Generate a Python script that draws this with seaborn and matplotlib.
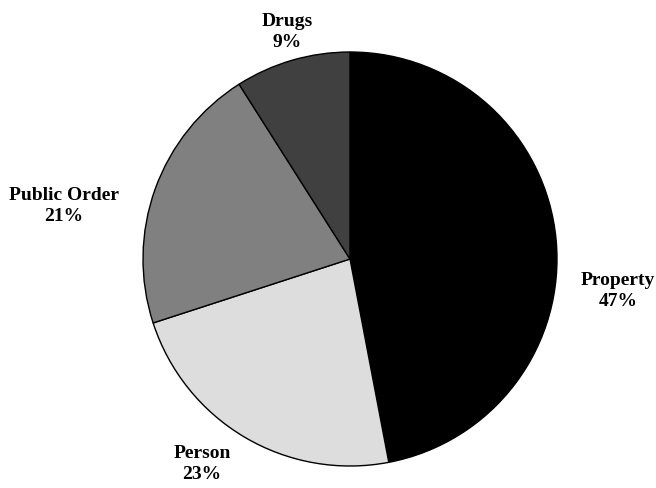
import matplotlib
matplotlib.use("Agg")
import matplotlib.pyplot as plt
import seaborn as sns

# offense categories and their share of the total
categories = ["Property", "Person", "Public Order", "Drugs"]
shares = [47, 23, 21, 9]
slice_colors = ["#000000", "#dddddd", "#808080", "#404040"]

# where each label sits, in pie radii from the centre (layout only)
label_spots = [(1.295, -0.15), (-0.715, -0.986), (-1.382, 0.261), (-0.304, 1.101)]

sns.set_style("white")
plt.rcParams["font.family"] = ["Liberation Serif", "DejaVu Serif"]
plt.rcParams["text.color"] = "black"

fig = plt.figure(figsize=(6.56, 4.89), dpi=100)
# square axes so the pie fills a circle of the right size
ax = fig.add_axes([143 / 656, 22 / 489, 414 / 656, 414 / 489])

labels = [f"{c}\n{s}%" for c, s in zip(categories, shares)]
wedges, texts = ax.pie(
    shares,
    labels=labels,
    colors=slice_colors,
    startangle=90,
    counterclock=False,
    wedgeprops={"edgecolor": "black", "linewidth": 1},
    textprops={"fontsize": 14, "fontweight": "bold", "linespacing": 1.25,
               "color": "black"},
)
for t, spot in zip(texts, label_spots):
    t.set_position(spot)
    t.set_horizontalalignment("center")
    t.set_verticalalignment("center")

ax.set_xlim(-1, 1)
ax.set_ylim(-1, 1)
ax.set_aspect("equal")

fig.savefig("out.png", dpi=100)
